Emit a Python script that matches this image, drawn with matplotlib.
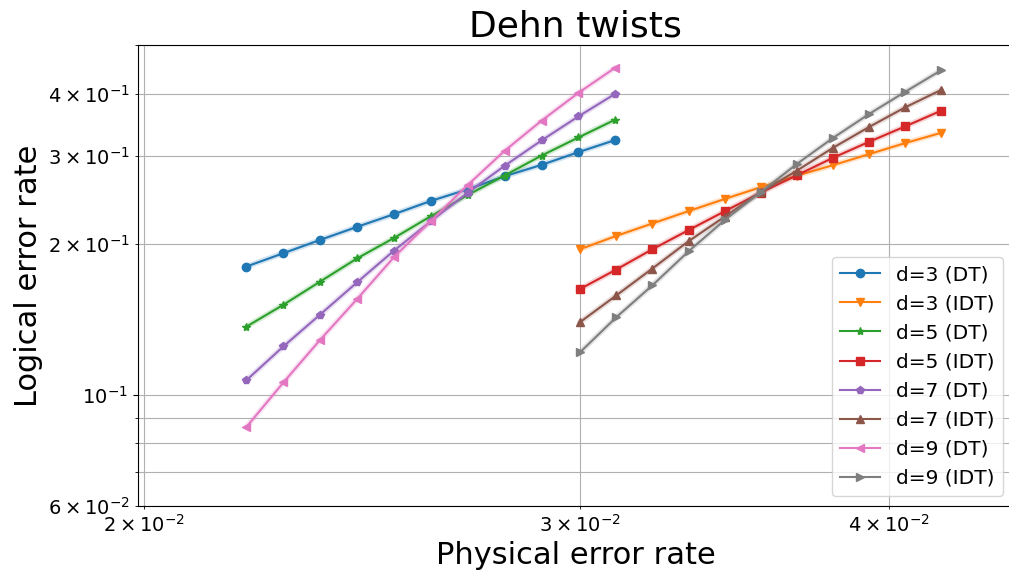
import matplotlib
matplotlib.use("Agg")
import matplotlib.pyplot as plt

# Physical error rates
p_dt = [0.02200, 0.02277, 0.02356, 0.02439, 0.02524, 0.02612, 0.02703, 0.02797, 0.02895, 0.02996, 0.03100]
p_idt = [0.03000, 0.03103, 0.03209, 0.03319, 0.03432, 0.03549, 0.03671, 0.03796, 0.03926, 0.04060, 0.04199]

# Logical error rates
d3_dt = [0.1805, 0.1919, 0.2040, 0.2167, 0.2297, 0.2441, 0.2575, 0.2734, 0.2881, 0.3055, 0.3229]
d5_dt = [0.1369, 0.1514, 0.1684, 0.1875, 0.2059, 0.2276, 0.2508, 0.2743, 0.3007, 0.3268, 0.3547]
d7_dt = [0.1070, 0.1250, 0.1447, 0.1680, 0.1943, 0.2224, 0.2535, 0.2868, 0.3224, 0.3601, 0.3994]
d9_dt = [0.0863, 0.1059, 0.1288, 0.1556, 0.1886, 0.2227, 0.2627, 0.3073, 0.3531, 0.4013, 0.4504]

d3_idt = [0.1954, 0.2078, 0.2200, 0.2329, 0.2462, 0.2599, 0.2742, 0.2877, 0.3027, 0.3185, 0.3340]
d5_idt = [0.1627, 0.1780, 0.1954, 0.2134, 0.2326, 0.2535, 0.2747, 0.2976, 0.3204, 0.3439, 0.3698]
d7_idt = [0.1397, 0.1580, 0.1788, 0.2028, 0.2269, 0.2540, 0.2806, 0.3116, 0.3430, 0.3754, 0.4069]
d9_idt = [0.1216, 0.1429, 0.1655, 0.1936, 0.2234, 0.2540, 0.2894, 0.3260, 0.3641, 0.4032, 0.4455]

labels = ["d=3 (DT)", "d=3 (IDT)", "d=5 (DT)", "d=5 (IDT)",
          "d=7 (DT)", "d=7 (IDT)", "d=9 (DT)", "d=9 (IDT)"]
series = [(p_dt, d3_dt), (p_idt, d3_idt), (p_dt, d5_dt), (p_idt, d5_idt),
          (p_dt, d7_dt), (p_idt, d7_idt), (p_dt, d9_dt), (p_idt, d9_idt)]
markers = ["o", "v", "*", "s", "p", "^", "<", ">"]
colors = ["#1f77b4", "#ff7f0e", "#2ca02c", "#d62728",
          "#9467bd", "#8c564b", "#e377c2", "#7f7f7f"]

fig = plt.figure(figsize=(10.09, 5.71), dpi=100)
ax = fig.add_axes([138/1009, 1 - 506/571, (1013-138)/1009, (506-45)/571])

for (x, y), lab, m, c in zip(series, labels, markers, colors):
    # faint uncertainty halo
    ax.plot(x, y, color=c, lw=4, alpha=0.2, solid_capstyle="round")
    ax.plot(x, y, marker=m, color=c, label=lab, lw=1.5, ms=6)

ax.set_xscale("log")
ax.set_yscale("log")
ax.set_xlim(0.01989, 0.04488)
ax.set_ylim(0.06, 0.5)
ax.grid(True, which="both")
ax.tick_params(axis="both", which="both", labelsize=14)

ax.set_title("Dehn twists", fontsize=26)
ax.set_xlabel("Physical error rate", fontsize=22)
ax.set_ylabel("Logical error rate", fontsize=22)
ax.legend(loc="lower right", fontsize=14.5)

fig.savefig("out.png", dpi=100)
